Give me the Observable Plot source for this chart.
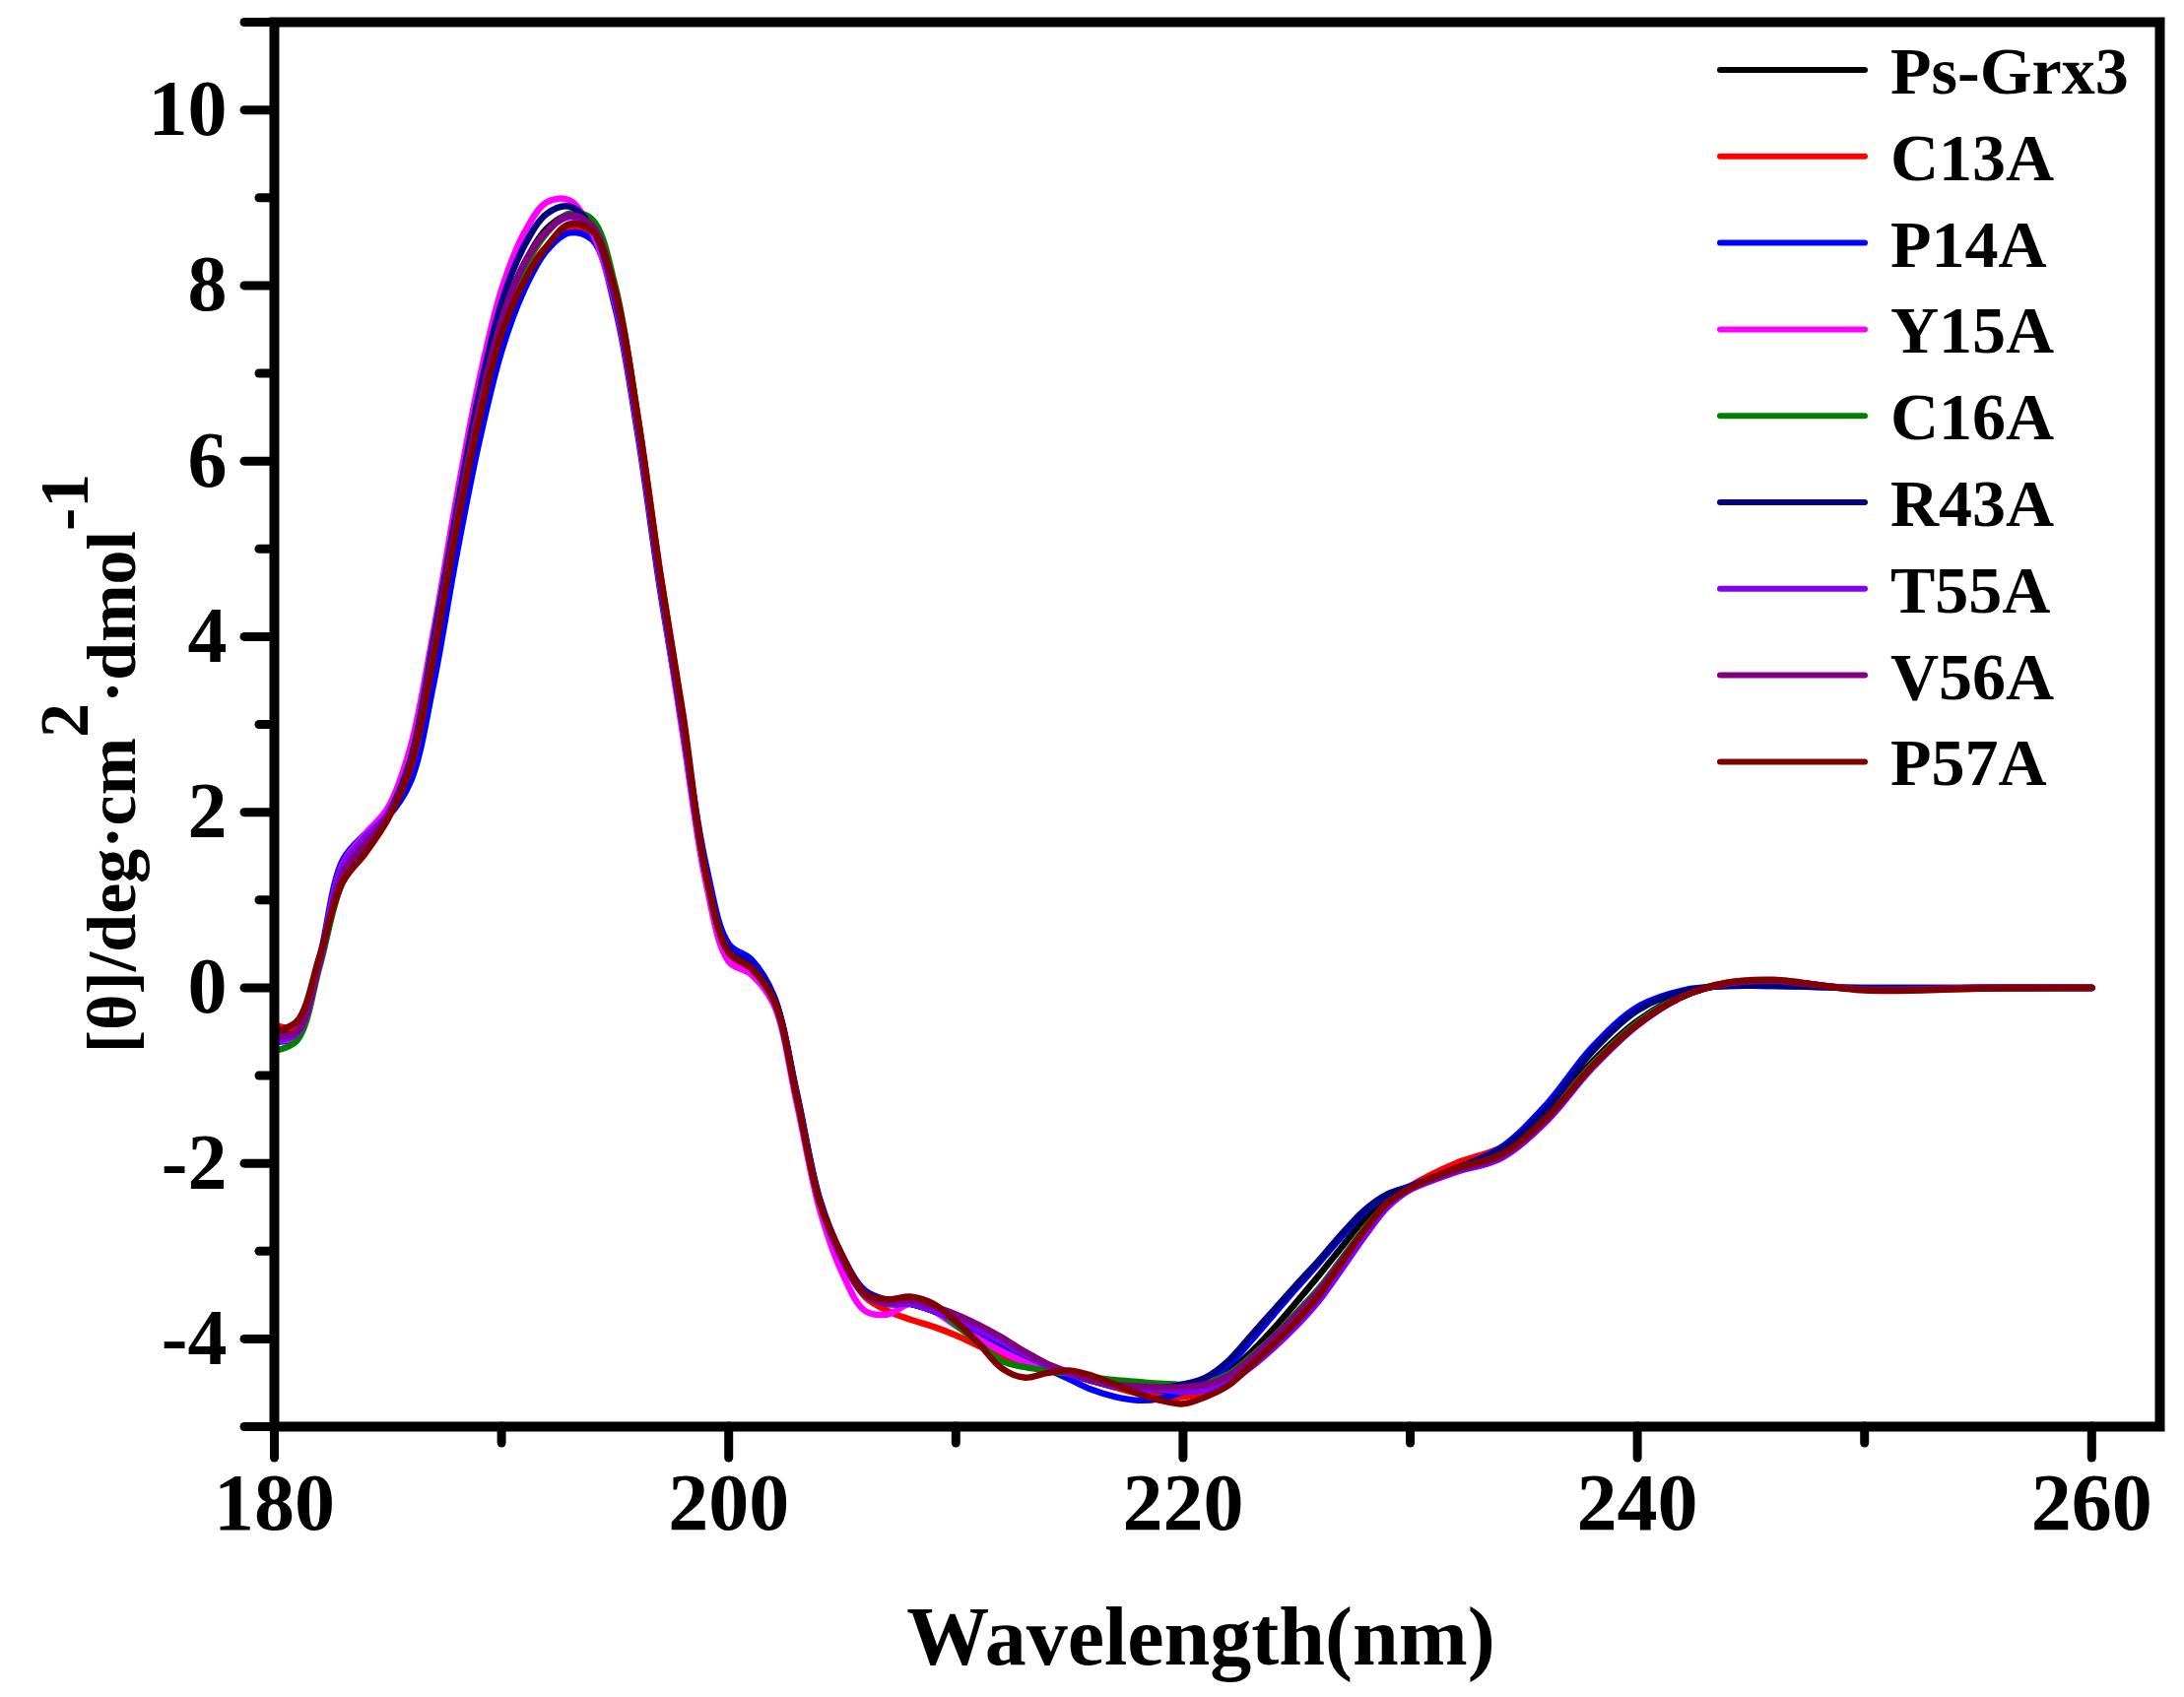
<!DOCTYPE html>
<html>
<head>
<meta charset="utf-8">
<script src="https://cdn.jsdelivr.net/npm/d3@7"></script>
<script src="https://cdn.jsdelivr.net/npm/@observablehq/plot@0.6"></script>
<style>
  html, body { margin: 0; padding: 0; background: #ffffff; overflow: hidden; }
  #chart svg { display: block; }
</style>
</head>
<body>
<div id="chart"></div>
<script>
// Wavelengths (nm)
const wavelengths = [180,181,182,183,184,185,186,187,188,189,190,191,192,193,194,195,196,197,198,199,
  200,201,202,203,204,205,206,207,208,209,210,211,212,213,214,215,216,217,218,219,
  220,221,222,223,224,225,226,227,228,229,230,232,234,236,238,240,242,244,246,250,255,260];

const seriesNames = ["Ps-Grx3","C13A","P14A","Y15A","C16A","R43A","T55A","V56A","P57A"];
const seriesColors = ["#000000","#ff0000","#0000ff","#ff00ff","#008000","#000080","#7f00ff","#800080","#800000"];

const psGrx3 = [-0.55,-0.45,0.30,1.25,1.60,1.95,2.55,3.85,5.30,6.60,7.60,8.25,8.65,8.80,8.65,7.90,6.45,4.65,3.00,1.30,
  0.40,0.22,-0.15,-1.25,-2.45,-3.10,-3.50,-3.60,-3.60,-3.68,-3.80,-3.95,-4.10,-4.22,-4.32,-4.40,-4.48,-4.55,-4.60,-4.62,
  -4.60,-4.52,-4.38,-4.15,-3.88,-3.58,-3.27,-2.95,-2.63,-2.40,-2.28,-2.08,-1.90,-1.45,-0.85,-0.38,-0.08,0.05,0.07,-0.02,0.00,0.00];
const c13a = [-0.42,-0.45,0.30,1.20,1.55,1.95,2.55,3.80,5.20,6.50,7.50,8.10,8.45,8.65,8.60,7.95,6.50,4.70,3.05,1.25,
  0.32,0.18,-0.15,-1.25,-2.42,-3.10,-3.52,-3.68,-3.78,-3.86,-3.96,-4.08,-4.20,-4.30,-4.35,-4.40,-4.47,-4.55,-4.62,-4.66,
  -4.66,-4.60,-4.50,-4.30,-4.05,-3.78,-3.48,-3.12,-2.75,-2.45,-2.26,-2.00,-1.82,-1.45,-0.88,-0.40,-0.09,0.06,0.08,-0.02,-0.01,0.00];
const p14a = [-0.62,-0.55,0.35,1.45,1.75,1.95,2.35,3.45,4.90,6.20,7.25,7.95,8.40,8.60,8.52,7.75,6.30,4.50,2.95,1.40,
  0.50,0.32,-0.10,-1.20,-2.40,-3.05,-3.45,-3.56,-3.60,-3.68,-3.80,-3.93,-4.06,-4.20,-4.34,-4.46,-4.58,-4.66,-4.70,-4.68,
  -4.60,-4.48,-4.30,-4.02,-3.72,-3.42,-3.13,-2.83,-2.55,-2.36,-2.26,-2.06,-1.82,-1.33,-0.68,-0.22,-0.03,0.02,0.02,0.00,0.00,0.00];
const y15a = [-0.60,-0.55,0.30,1.40,1.75,2.05,2.75,4.05,5.55,6.90,7.95,8.60,8.95,8.97,8.60,7.80,6.35,4.55,2.85,1.20,
  0.30,0.15,-0.20,-1.32,-2.52,-3.25,-3.68,-3.72,-3.60,-3.68,-3.85,-4.00,-4.14,-4.26,-4.34,-4.40,-4.47,-4.52,-4.55,-4.56,
  -4.56,-4.52,-4.42,-4.22,-3.98,-3.72,-3.44,-3.10,-2.75,-2.46,-2.30,-2.10,-1.94,-1.52,-0.90,-0.42,-0.10,0.05,0.08,-0.02,0.00,0.00];
const c16a = [-0.72,-0.60,0.25,1.20,1.55,1.95,2.60,3.90,5.30,6.55,7.55,8.20,8.60,8.82,8.75,8.00,6.50,4.60,2.95,1.30,
  0.42,0.22,-0.15,-1.25,-2.44,-3.08,-3.50,-3.60,-3.60,-3.65,-3.84,-4.05,-4.25,-4.32,-4.36,-4.40,-4.44,-4.47,-4.49,-4.51,
  -4.52,-4.50,-4.40,-4.20,-3.97,-3.70,-3.42,-3.08,-2.74,-2.45,-2.28,-2.07,-1.90,-1.48,-0.88,-0.40,-0.09,0.05,0.07,-0.02,0.00,0.00];
const r43a = [-0.58,-0.50,0.30,1.30,1.65,1.98,2.60,3.95,5.40,6.75,7.80,8.45,8.82,8.90,8.65,7.85,6.40,4.60,2.95,1.30,
  0.42,0.25,-0.12,-1.22,-2.42,-3.08,-3.50,-3.60,-3.60,-3.68,-3.78,-3.90,-4.04,-4.18,-4.30,-4.40,-4.48,-4.54,-4.57,-4.56,
  -4.52,-4.44,-4.25,-3.96,-3.67,-3.38,-3.10,-2.80,-2.53,-2.35,-2.27,-2.06,-1.84,-1.38,-0.73,-0.26,-0.04,0.02,0.02,0.00,0.00,0.00];
const t55a = [-0.60,-0.52,0.30,1.38,1.72,1.98,2.50,3.80,5.25,6.55,7.60,8.25,8.62,8.78,8.65,7.90,6.45,4.65,3.00,1.30,
  0.40,0.22,-0.15,-1.25,-2.44,-3.10,-3.50,-3.60,-3.60,-3.68,-3.78,-3.90,-4.03,-4.17,-4.30,-4.40,-4.48,-4.54,-4.57,-4.58,
  -4.60,-4.58,-4.50,-4.32,-4.10,-3.85,-3.56,-3.20,-2.83,-2.50,-2.30,-2.10,-1.94,-1.52,-0.92,-0.43,-0.10,0.05,0.08,-0.02,0.00,0.00];
const v56a = [-0.55,-0.50,0.30,1.30,1.65,1.95,2.55,3.85,5.30,6.60,7.60,8.25,8.62,8.80,8.68,7.92,6.45,4.65,3.00,1.30,
  0.40,0.22,-0.15,-1.25,-2.44,-3.08,-3.50,-3.58,-3.56,-3.63,-3.72,-3.84,-3.98,-4.14,-4.28,-4.38,-4.47,-4.52,-4.54,-4.55,
  -4.55,-4.52,-4.42,-4.22,-3.98,-3.72,-3.44,-3.10,-2.76,-2.46,-2.29,-2.08,-1.92,-1.50,-0.90,-0.42,-0.10,0.05,0.08,-0.02,0.00,0.00];
const p57a = [-0.50,-0.38,0.37,1.20,1.53,1.92,2.52,3.75,5.20,6.45,7.45,8.05,8.45,8.70,8.62,7.95,6.50,4.70,3.10,1.30,
  0.40,0.22,-0.15,-1.25,-2.44,-3.05,-3.48,-3.55,-3.52,-3.60,-3.80,-4.05,-4.33,-4.44,-4.39,-4.36,-4.42,-4.52,-4.62,-4.70,
  -4.74,-4.66,-4.53,-4.30,-4.06,-3.80,-3.50,-3.13,-2.76,-2.45,-2.28,-2.06,-1.90,-1.48,-0.90,-0.42,-0.10,0.06,0.09,-0.03,-0.01,0.00];

const seriesValues = [psGrx3, c13a, p14a, y15a, c16a, r43a, t55a, v56a, p57a];

const xMajor = [180, 200, 220, 240, 260];
const xMinor = [190, 210, 230, 250];
const yMajor = [-4, -2, 0, 2, 4, 6, 8, 10];
const yMinor = [-3, -1, 1, 3, 5, 7, 9];
const yEdge = [-5, 11];

const xLabel = "Wavelength(nm)";

// long-format table
const data = [];
seriesNames.forEach((name, k) => {
  wavelengths.forEach((w, i) => data.push({w, v: seriesValues[k][i], s: name}));
});

const FONT = "'Liberation Serif', 'Times New Roman', Times, serif";

const plot = Plot.plot({
  width: 2217,
  height: 1723,
  marginLeft: 278,
  marginRight: 25,
  marginTop: 22,
  marginBottom: 275,
  style: {fontFamily: FONT, fontWeight: "bold", background: "#ffffff", color: "#000"},
  x: {domain: [180, 263]},
  y: {domain: [-5, 11]},
  color: {domain: seriesNames, range: seriesColors},
  marks: [
    Plot.line(data, {x: "w", y: "v", z: "s", stroke: "s", strokeWidth: 6.5, curve: "catmull-rom",
      strokeLinejoin: "round", strokeLinecap: "round"}),
    Plot.frame({stroke: "#000", strokeWidth: 10}),
    Plot.axisX({ticks: xMajor, tickSize: 32, tickPadding: 14, strokeWidth: 9, strokeLinecap: "round",
      fontSize: 82, fontWeight: "bold", tickFormat: d => String(d), label: null}),
    Plot.axisX({ticks: xMinor, tickSize: 17, strokeWidth: 9, strokeLinecap: "round", tickFormat: () => "", label: null}),
    Plot.axisY({ticks: yMajor, tickSize: 30, tickPadding: 18, strokeWidth: 9, strokeLinecap: "round",
      fontSize: 80, fontWeight: "bold", tickFormat: d => String(d), label: null}),
    Plot.axisY({ticks: yMinor, tickSize: 15, strokeWidth: 9, strokeLinecap: "round", tickFormat: () => "", label: null}),
    Plot.axisY({ticks: yEdge, tickSize: 30, strokeWidth: 9, strokeLinecap: "round", tickFormat: () => "", label: null})
  ]
});

document.getElementById("chart").appendChild(plot);

const svg = d3.select(plot);

// X axis title
svg.append("text")
  .attr("x", 1219).attr("y", 1690)
  .attr("text-anchor", "middle")
  .attr("font-family", FONT).attr("font-weight", "bold").attr("font-size", 84)
  .attr("fill", "#000")
  .text(xLabel);

// Y axis title with superscripts
const yt = svg.append("text")
  .attr("transform", "translate(137,775) rotate(-90)")
  .attr("text-anchor", "middle")
  .attr("font-family", FONT).attr("font-weight", "bold").attr("font-size", 70)
  .attr("fill", "#000");
yt.append("tspan").text("[θ]/deg·cm");
yt.append("tspan").attr("dy", "-0.68em").text("2");
yt.append("tspan").attr("dy", "0.68em").text("·dmol");
yt.append("tspan").attr("dy", "-0.68em").text("-1");

// Legend
const legend = svg.append("g");
seriesNames.forEach((name, i) => {
  const cy = 71 + i * 87.8;
  legend.append("line")
    .attr("x1", 1746).attr("x2", 1893).attr("y1", cy).attr("y2", cy)
    .attr("stroke", seriesColors[i]).attr("stroke-width", 6).attr("stroke-linecap", "round");
  legend.append("text")
    .attr("x", 1919).attr("y", cy + 24)
    .attr("text-anchor", "start")
    .attr("font-family", FONT).attr("font-weight", "bold").attr("font-size", 68)
    .attr("fill", "#000")
    .text(name);
});
</script>
</body>
</html>
